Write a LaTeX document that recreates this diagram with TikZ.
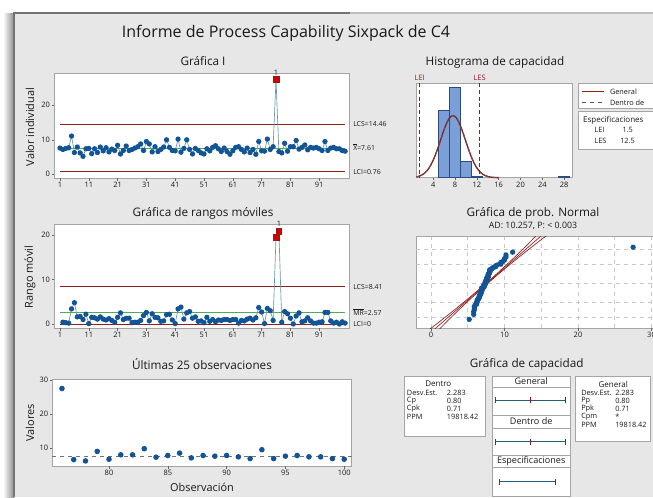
\documentclass[tikz,border=0pt]{standalone}
\usepackage{fontspec}
\setmainfont{Open Sans}
\usepackage{tikz}
\usetikzlibrary{positioning}

\definecolor{panelbg}{RGB}{231,231,231}
\definecolor{txt}{RGB}{25,25,25}
\definecolor{boxgray}{RGB}{165,165,165}
\definecolor{ptblue}{RGB}{18,84,150}
\definecolor{connline}{RGB}{105,150,175}
\definecolor{limred}{RGB}{140,30,30}
\definecolor{outred}{RGB}{210,0,0}
\definecolor{cgreen}{RGB}{80,170,80}
\definecolor{barblue}{RGB}{122,160,215}
\definecolor{barline}{RGB}{45,75,125}
\definecolor{gridgray}{RGB}{200,200,200}
\definecolor{capline}{RGB}{40,90,120}

% datos de C4, en orden de observacion
\def\datosC{7.6,7.2,7.5,7.7,11.1,6.3,7.9,6.2,5.2,7.4,%
7.5,6.0,7.4,6.3,7.9,6.8,7.7,6.5,7.3,6.9,%
8.4,5.9,6.9,8.2,6.9,7.2,7.6,8.0,8.8,6.9,%
9.5,8.8,6.5,8.0,6.6,7.2,7.9,10.0,7.8,6.9,%
6.8,10.2,6.4,7.5,10.0,7.2,5.9,7.5,6.9,6.2,%
5.9,7.4,6.8,7.8,8.3,7.4,6.6,7.6,6.6,5.8,%
6.8,7.8,8.0,7.2,6.5,7.6,6.3,7.2,5.8,9.5,%
6.8,6.7,10.2,7.2,8.0,27.5,6.6,6.2,9.0,6.7,%
8.0,8.0,9.8,7.3,7.8,8.5,7.1,7.8,7.6,7.8,%
7.4,6.9,9.5,6.9,7.6,7.8,7.4,7.4,6.9,6.7}
% los mismos datos ordenados
\def\datosS{5.2,5.8,5.8,5.9,5.9,5.9,6.0,6.2,6.2,6.2,%
6.3,6.3,6.3,6.4,6.5,6.5,6.5,6.6,6.6,6.6,%
6.6,6.7,6.7,6.7,6.8,6.8,6.8,6.8,6.8,6.9,%
6.9,6.9,6.9,6.9,6.9,6.9,6.9,6.9,7.1,7.2,%
7.2,7.2,7.2,7.2,7.2,7.2,7.3,7.3,7.4,7.4,%
7.4,7.4,7.4,7.4,7.4,7.5,7.5,7.5,7.5,7.6,%
7.6,7.6,7.6,7.6,7.6,7.7,7.7,7.8,7.8,7.8,%
7.8,7.8,7.8,7.8,7.9,7.9,7.9,8.0,8.0,8.0,%
8.0,8.0,8.0,8.2,8.3,8.4,8.5,8.8,8.8,9.0,%
9.5,9.5,9.5,9.8,10.0,10.0,10.2,10.2,11.1,27.5}

\tikzset{
    mtitle/.style={font=\fontsize{12}{14}\selectfont, text=txt},
    ptitle/.style={font=\fontsize{8.8}{10.5}\selectfont, text=txt},
    subtit/.style={font=\fontsize{6.6}{8}\selectfont, text=txt},
    axlbl/.style={font=\fontsize{8.2}{9.5}\selectfont, text=txt, rotate=90},
    ticklbl/.style={font=\fontsize{5.6}{6.5}\selectfont, text=txt, inner sep=1pt},
    limlbl/.style={font=\fontsize{5.2}{6.5}\selectfont, text=txt, anchor=west, inner sep=0pt},
    tabtxt/.style={font=\fontsize{5.5}{6.5}\selectfont, text=txt, anchor=west, inner sep=0pt},
    tabhead/.style={font=\fontsize{6}{7.5}\selectfont, text=txt, inner sep=0pt},
    colhead/.style={font=\fontsize{6.8}{8}\selectfont, text=txt, inner sep=0pt},
    plotbox/.style={draw=boxgray, fill=white, line width=0.5pt},
    tablebox/.style={draw=boxgray, fill=white, line width=0.5pt},
    tickm/.style={draw=black!60, line width=0.4pt},
    limline/.style={draw=limred, line width=0.7pt},
    cline/.style={draw=cgreen, line width=0.7pt},
    conn/.style={draw=connline, line width=0.5pt},
    datapt/.style={fill=ptblue},
    outpt/.style={fill=outred, draw=limred, line width=0.3pt},
    bar/.style={fill=barblue, draw=barline, line width=0.4pt},
    gridl/.style={draw=gridgray, dashed, line width=0.4pt},
    fitline/.style={draw=limred, line width=0.5pt},
    capl/.style={draw=capline, line width=0.6pt},
    captick/.style={draw=limred, line width=0.6pt},
}

\begin{document}
\begin{tikzpicture}[x=0.75pt, y=-0.75pt]
    \useasboundingbox (0,0) rectangle (653,497);
    \clip (0,0) rectangle (653,497);

    % Fondo y marco de la ventana
    \fill[white] (0,0) rectangle (653,497);
    \shade[left color=white, right color=black!45] (3,13) rectangle (14,497);
    \fill[panelbg] (14,13) rectangle (653,497);
    \draw[black!55, line width=1.5pt] (14,497) -- (14,13) -- (350,13);
    \draw[black!25, line width=1pt] (350,13) -- (653,13);

    % Titulo principal
    \node[mtitle] (titulo) at (286,33) {Informe de Process Capability Sixpack de C4};

    % Grafica I
    \node[ptitle] (titI) at (203,61) {Gráfica I};
    \draw[plotbox] (54,73) rectangle (349,178);
    \node[axlbl] (ejeI) at (30,127) {Valor individual};
    \foreach \v in {0,10,20}
        \draw[tickm] (54,{174.3-3.45*\v}) -- ++(-2.5,0) node[ticklbl, left] (yI\v) {\v};
    \foreach \i in {1,11,...,91}
        \draw[tickm] ({57.12+2.88*\i},178) -- ++(0,2.5) node[ticklbl, below] (xI\i) {\i};
    \begin{scope}[shift={(57.12,174.3)}, x=2.16pt, y=2.5875pt]
        \draw[limline] (1,14.46) -- (100,14.46);
        \draw[cline] (1,7.61) -- (100,7.61);
        \draw[limline] (1,0.76) -- (100,0.76);
        \foreach \v [count=\i] in \datosC
            \coordinate (ind\i) at (\i,\v);
        \draw[conn] (ind1) \foreach \i in {2,...,100} {-- (ind\i)};
        \foreach \v [count=\i] in \datosC {
            \ifdim \v pt>14.46pt
                \draw[outpt] (ind\i) +(-2.1pt,-2.1pt) rectangle +(2.1pt,2.1pt);
                \node[ticklbl, above=2pt of ind\i] (fueraI) {1};
            \else
                \fill[datapt] (ind\i) circle[radius=2pt];
            \fi}
    \end{scope}
    \node[limlbl] (lcsI) at (353,124.4) {LCS=14.46};
    \node[limlbl] (xbI) at (353,147) {$\overline{\mbox{X}}$=7.61};
    \node[limlbl] (lciI) at (353,171.7) {LCI=0.76};

    % Grafica de rangos moviles
    \node[ptitle] (titMR) at (203,213) {Gráfica de rangos móviles};
    \draw[plotbox] (54,224) rectangle (349,328);
    \node[axlbl] (ejeMR) at (30,277) {Rango móvil};
    \foreach \v in {0,10,20}
        \draw[tickm] (54,{324-4.45*\v}) -- ++(-2.5,0) node[ticklbl, left] (yMR\v) {\v};
    \foreach \i in {1,11,...,91}
        \draw[tickm] ({57.12+2.88*\i},328) -- ++(0,2.5) node[ticklbl, below] (xMR\i) {\i};
    \begin{scope}[shift={(57.12,324)}, x=2.16pt, y=3.3375pt]
        \draw[limline] (1,8.41) -- (100,8.41);
        \draw[cline] (1,2.57) -- (100,2.57);
        \draw[limline] (1,0) -- (100,0);
        \foreach \v [count=\i, remember=\v as \prev (initially 7.6)] in \datosC {
            \pgfmathsetmacro\mr{abs(\v-\prev)}
            \coordinate (mr\i) at (\i,\mr);}
        \draw[conn] (mr2) \foreach \i in {3,...,100} {-- (mr\i)};
        \foreach \v [count=\i, remember=\v as \prev (initially 7.6)] in \datosC {
            \pgfmathsetmacro\mr{abs(\v-\prev)}
            \ifnum\i>1
            \ifdim \mr pt>8.41pt
                \draw[outpt] (mr\i) +(-2.1pt,-2.1pt) rectangle +(2.1pt,2.1pt);
            \else
                \fill[datapt] (mr\i) circle[radius=2pt];
            \fi\fi}
        \node[ticklbl, above=2pt of mr77] (fueraMR) {1};
    \end{scope}
    \node[limlbl] (lcsMR) at (353,286.6) {LCS=8.41};
    \node[limlbl] (mrMR) at (353,312) {$\overline{\mbox{MR}}$=2.57};
    \node[limlbl] (lciMR) at (353,324.5) {LCI=0};

    % Ultimas 25 observaciones
    \node[ptitle] (titU) at (202,364) {Últimas 25 observaciones};
    \draw[plotbox] (52.3,379.3) rectangle (351.7,466);
    \node[axlbl] (ejeU) at (30,423) {Valores};
    \node[axlbl, rotate=-90] (obsU) at (202,487) {Observación};
    \foreach \v in {10,20,30}
        \draw[tickm] (52.3,{482-3.4*\v}) -- ++(-2.5,0) node[ticklbl, left] (yU\v) {\v};
    \foreach \i in {80,85,...,100}
        \draw[tickm] ({109+11.76*(\i-80)},466) -- ++(0,2.5) node[ticklbl, below] (xU\i) {\i};
    \draw[dashed, black!55, line width=0.5pt] (52.3,456.1) -- (351.7,456.1);
    \begin{scope}[shift={(-831.8,482)}, x=8.82pt, y=2.55pt]
        \foreach \v [count=\i] in \datosC {
            \ifnum\i>75 \fill[datapt] (\i,\v) circle[radius=2.1pt]; \fi}
    \end{scope}

    % Histograma de capacidad
    \node[ptitle] (titH) at (495,62.7) {Histograma de capacidad};
    \draw[plotbox] (416,83.3) rectangle (572.3,177.7);
    \foreach \u in {4,8,...,28}
        \draw[tickm] ({411.5+5.45*\u},177.7) -- ++(0,2.5) node[ticklbl, below] (xH\u) {\u};
    \begin{scope}[shift={(411.5,177.7)}, x=4.0875pt, y=1.3305pt]
        \foreach \a/\n in {5/38,7/51,9/9,11/1,27/1}
            \draw[bar] (\a,0) rectangle ({\a+2},\n);
        \draw[limred, line width=1pt] plot[domain=0.9:16, samples=80] (\x,{34.95*exp(-(\x-7.61)^2/10.424)});
        \draw[black!65, dashed, line width=0.8pt] plot[domain=0.9:16, samples=80] (\x,{34.95*exp(-(\x-7.61)^2/10.424)});
    \end{scope}
    \draw[limred, densely dashed, line width=0.5pt] (419.7,83.3) -- (419.7,177.7);
    \draw[limred, densely dashed, line width=0.5pt] (479.6,83.3) -- (479.6,177.7);
    \node[ticklbl, text=limred] (lei) at (419.7,77.7) {LEI};
    \node[ticklbl, text=limred] (les) at (479.6,77.7) {LES};

    % Leyenda del histograma
    \draw[tablebox] (578.3,83.3) rectangle (665,108.3);
    \draw[limred, line width=1pt] (581.7,91.7) -- (604,91.7) node[tabtxt, right=4pt] (legG) {General};
    \draw[black!65, dashed, line width=1pt] (581.7,102.7) -- (604,102.7) node[tabtxt, right=4pt] (legD) {Dentro de};
    \draw[tablebox] (578.3,111) rectangle (665,149);
    \node[tabhead] (hdEsp) at (613.3,120.7) {Especificaciones};
    \node[tabtxt] (leiT) at (594.3,130.3) {LEI};
    \node[tabtxt] (leiV) at (622.3,130.3) {1.5};
    \node[tabtxt] (lesT) at (594.3,140.7) {LES};
    \node[tabtxt] (lesV) at (620,140.7) {12.5};

    % Grafica de probabilidad normal
    \node[ptitle] (titN) at (533,213.3) {Gráfica de prob. Normal};
    \node[subtit] (adN) at (533,226) {AD: 10.257, P: < 0.003};
    \draw[plotbox] (416,236.7) rectangle (665,328.3);
    \foreach \u in {0,10,20,30}
        \draw[tickm] ({431+7.35*\u},328.3) -- ++(0,2.5) node[ticklbl, below] (xN\u) {\u};
    \begin{scope}[shift={(431,283.3)}, x=5.5125pt, y=11.025pt]
        \foreach \u in {0,5,...,30}
            \draw[gridl] (\u,-3.06) -- (\u,3.17);
        \foreach \z in {-2.326,-1.2816,0,1.2816,2.326}
            \draw[gridl] (-2.04,\z) -- (32,\z);
        \begin{scope}
            \clip (-2.04,-3.06) rectangle (32,3.17);
            \draw[fitline] ({7.61-2.283*3.4},-3.4) -- ({7.61+2.283*3.4},3.4);
            \draw[fitline] plot[domain=-3.4:3.4, samples=30] ({7.61+2.283*\x-0.12-0.055*\x*\x},\x);
            \draw[fitline] plot[domain=-3.4:3.4, samples=30] ({7.61+2.283*\x+0.12+0.055*\x*\x},\x);
        \end{scope}
        \foreach \v [count=\i] in \datosS {
            \pgfmathsetmacro\pr{(\i-0.3)/100.4}
            \pgfmathsetmacro\z{4.91*(\pr^0.14-(1-\pr)^0.14)}
            \fill[datapt] (\v,\z) circle[radius=2pt];}
    \end{scope}

    % Grafica de capacidad
    \node[ptitle] (titC) at (526.7,364) {Gráfica de capacidad};
    \draw[tablebox] (404,376) rectangle (485.7,436);
    \node[tabhead] (hdDentro) at (438.3,384) {Dentro};
    \foreach \et/\va [count=\k] in {Desv.Est./2.283, Cp/0.80, Cpk/0.71, PPM/19818.42} {
        \node[tabtxt] (etD\k) at (406.7,{384.7+8*\k}) {\et};
        \node[tabtxt] (vaD\k) at (446.7,{384.7+8*\k}) {\va};}
    \foreach \ya/\yb in {376.7/387, 387/415, 415/428, 428/455, 455/467, 467/496}
        \draw[tablebox] (492.3,\ya) rectangle (570,\yb);
    \node[colhead] (hdG) at (531.2,381) {General};
    \node[colhead] (hdD) at (531.2,421.5) {Dentro de};
    \node[colhead] (hdE) at (531.2,461.5) {Especificaciones};
    \draw[capl] (495.2,400) -- (564.9,400);
    \draw[capl] (495.2,441.7) -- (564.9,441.7);
    \draw[capl] (499,481.7) -- (555,481.7);
    \foreach \xt/\yt in {495.2/400, 530/400, 564.9/400, 495.2/441.7, 530/441.7, 564.9/441.7, 499/481.7, 555/481.7}
        \draw[captick] (\xt,{\yt-3}) -- (\xt,{\yt+3});
    \draw[tablebox] (575.7,376) rectangle (650,441.7);
    \node[tabhead] (hdGen) at (613.3,384) {General};
    \foreach \et/\va [count=\k] in {Desv.Est./2.283, Pp/0.80, Ppk/0.71, Cpm/*, PPM/19818.42} {
        \node[tabtxt] (etG\k) at (581,{384.7+8*\k}) {\et};
        \node[tabtxt] (vaG\k) at (615,{384.7+8*\k}) {\va};}

\end{tikzpicture}
\end{document}
